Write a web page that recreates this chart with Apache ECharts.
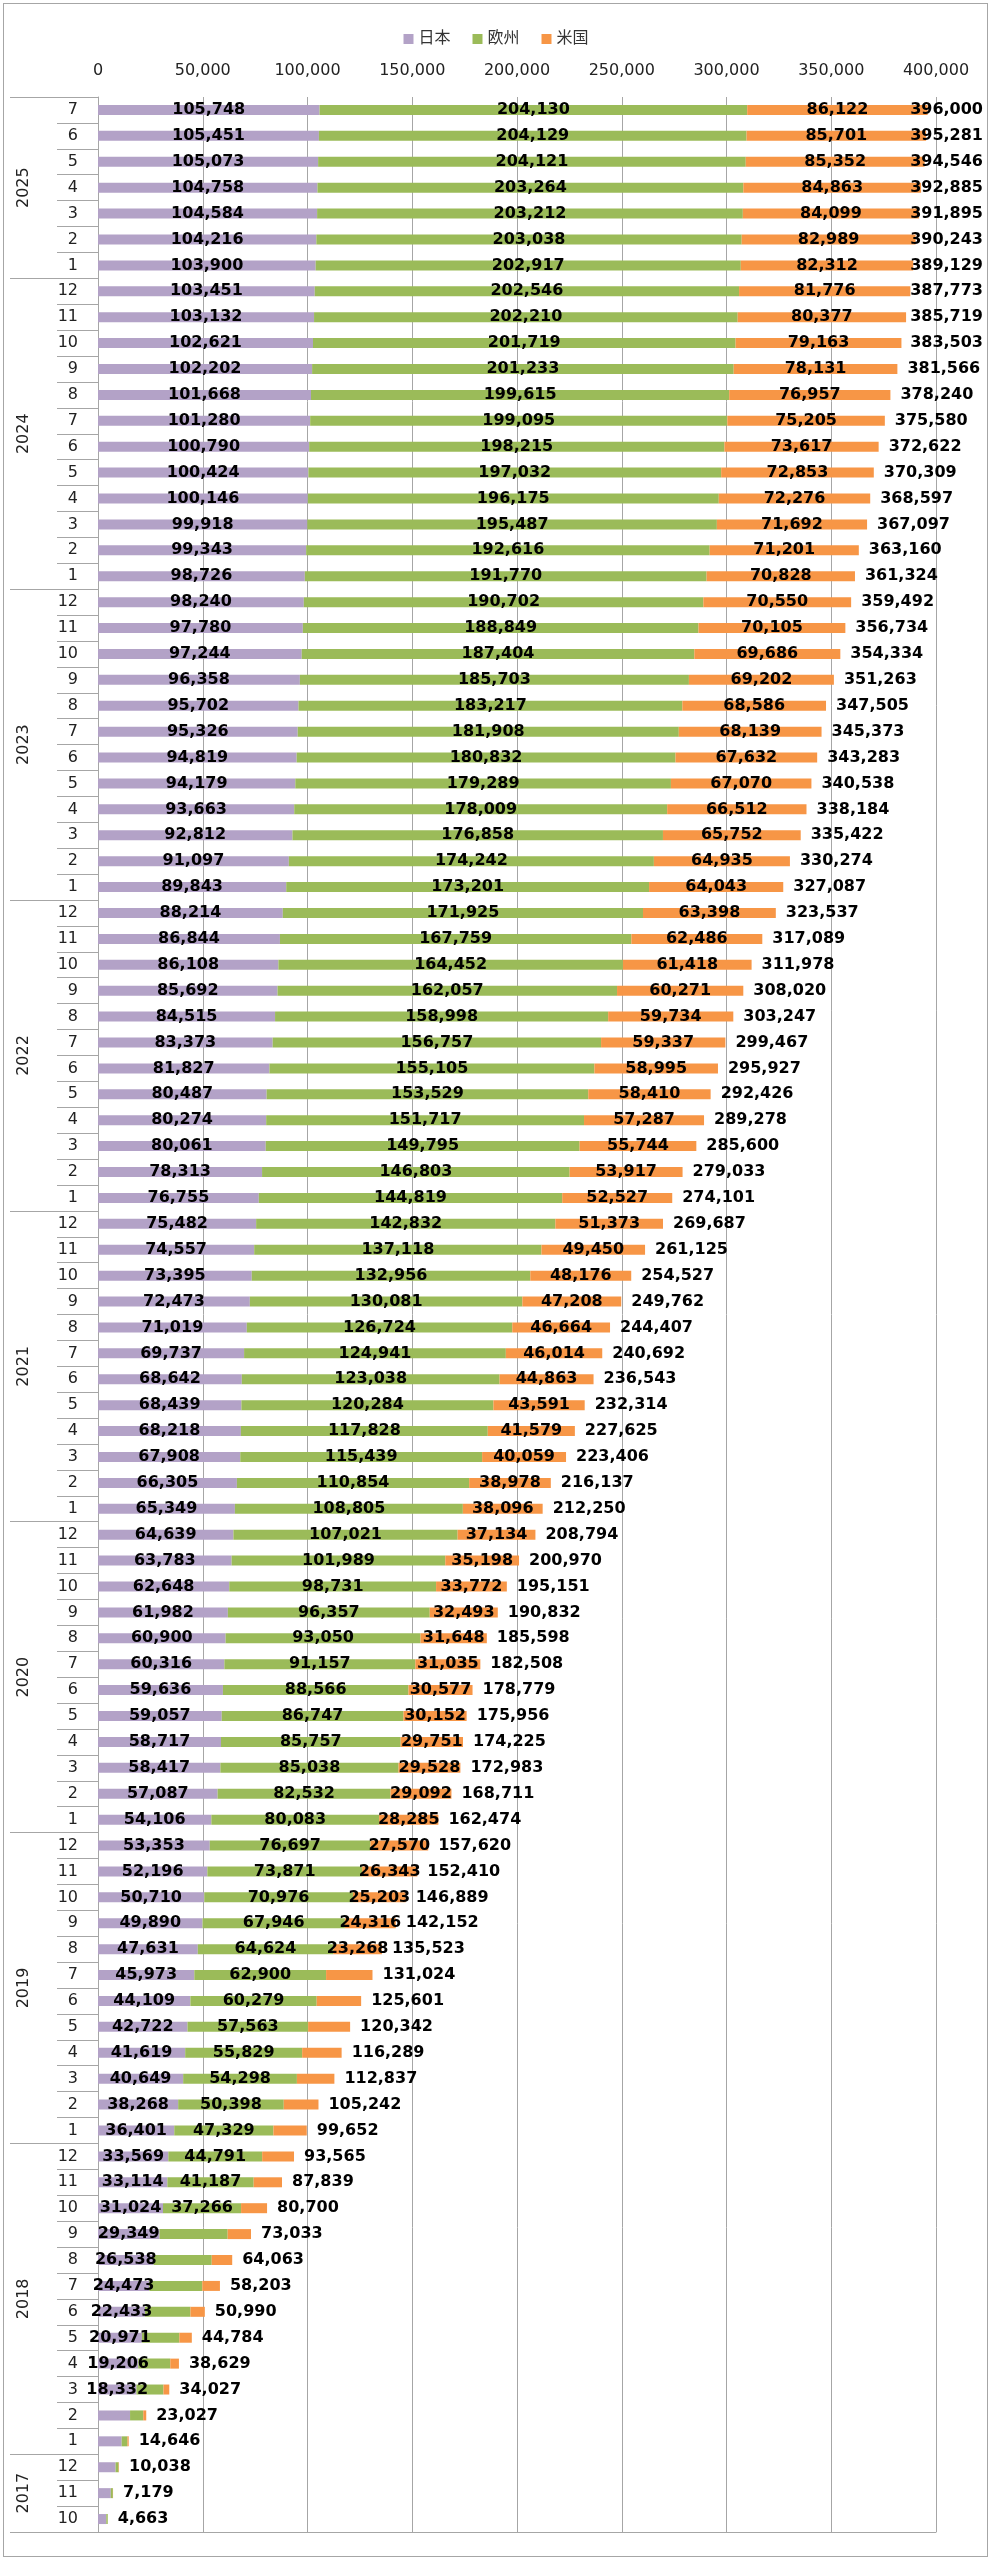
<!DOCTYPE html>
<html><head><meta charset="utf-8">
<script src="https://cdn.jsdelivr.net/npm/echarts@6/dist/echarts.min.js"></script>
<style>
html,body{margin:0;padding:0;background:#fff}
#c{width:992px;height:2560px}
#b{position:absolute;left:3px;top:3px;width:985px;height:2554px;box-sizing:border-box;border:1px solid #a6a6a6;pointer-events:none}
</style>
</head><body><div id="c"></div><div id="b"></div>
<script>
const categories = [
 '2017/10','2017/11','2017/12',
 '2018/1','2018/2','2018/3','2018/4','2018/5','2018/6','2018/7','2018/8','2018/9','2018/10','2018/11','2018/12',
 '2019/1','2019/2','2019/3','2019/4','2019/5','2019/6','2019/7','2019/8','2019/9','2019/10','2019/11','2019/12',
 '2020/1','2020/2','2020/3','2020/4','2020/5','2020/6','2020/7','2020/8','2020/9','2020/10','2020/11','2020/12',
 '2021/1','2021/2','2021/3','2021/4','2021/5','2021/6','2021/7','2021/8','2021/9','2021/10','2021/11','2021/12',
 '2022/1','2022/2','2022/3','2022/4','2022/5','2022/6','2022/7','2022/8','2022/9','2022/10','2022/11','2022/12',
 '2023/1','2023/2','2023/3','2023/4','2023/5','2023/6','2023/7','2023/8','2023/9','2023/10','2023/11','2023/12',
 '2024/1','2024/2','2024/3','2024/4','2024/5','2024/6','2024/7','2024/8','2024/9','2024/10','2024/11','2024/12',
 '2025/1','2025/2','2025/3','2025/4','2025/5','2025/6','2025/7'
];
const japan = [
 3950, 6100, 8400,
 11300, 15300, 18332, 19206, 20971, 22433, 24473, 26538, 29349, 31024, 33114, 33569,
 36401, 38268, 40649, 41619, 42722, 44109, 45973, 47631, 49890, 50710, 52196, 53353,
 54106, 57087, 58417, 58717, 59057, 59636, 60316, 60900, 61982, 62648, 63783, 64639,
 65349, 66305, 67908, 68218, 68439, 68642, 69737, 71019, 72473, 73395, 74557, 75482,
 76755, 78313, 80061, 80274, 80487, 81827, 83373, 84515, 85692, 86108, 86844, 88214,
 89843, 91097, 92812, 93663, 94179, 94819, 95326, 95702, 96358, 97244, 97780, 98240,
 98726, 99343, 99918, 100146, 100424, 100790, 101280, 101668, 102202, 102621, 103132, 103451,
 103900, 104216, 104584, 104758, 105073, 105451, 105748
];
const europe = [
 700, 1000, 1450,
 2750, 6300, 12900, 15300, 17850, 21700, 25300, 27750, 32550, 37266, 41187, 44791,
 47329, 50398, 54298, 55829, 57563, 60279, 62900, 64624, 67946, 70976, 73871, 76697,
 80083, 82532, 85038, 85757, 86747, 88566, 91157, 93050, 96357, 98731, 101989, 107021,
 108805, 110854, 115439, 117828, 120284, 123038, 124941, 126724, 130081, 132956, 137118, 142832,
 144819, 146803, 149795, 151717, 153529, 155105, 156757, 158998, 162057, 164452, 167759, 171925,
 173201, 174242, 176858, 178009, 179289, 180832, 181908, 183217, 185703, 187404, 188849, 190702,
 191770, 192616, 195487, 196175, 197032, 198215, 199095, 199615, 201233, 201719, 202210, 202546,
 202917, 203038, 203212, 203264, 204121, 204129, 204130
];
const usa = [
 13, 79, 188,
 596, 1427, 2795, 4123, 5963, 6857, 8430, 9775, 11134, 12410, 13538, 15205,
 15922, 16576, 17890, 18841, 20057, 21213, 22151, 23268, 24316, 25203, 26343, 27570,
 28285, 29092, 29528, 29751, 30152, 30577, 31035, 31648, 32493, 33772, 35198, 37134,
 38096, 38978, 40059, 41579, 43591, 44863, 46014, 46664, 47208, 48176, 49450, 51373,
 52527, 53917, 55744, 57287, 58410, 58995, 59337, 59734, 60271, 61418, 62486, 63398,
 64043, 64935, 65752, 66512, 67070, 67632, 68139, 68586, 69202, 69686, 70105, 70550,
 70828, 71201, 71692, 72276, 72853, 73617, 75205, 76957, 78131, 79163, 80377, 81776,
 82312, 82989, 84099, 84863, 85352, 85701, 86122
];
const totals = [
 4663, 7179, 10038,
 14646, 23027, 34027, 38629, 44784, 50990, 58203, 64063, 73033, 80700, 87839, 93565,
 99652, 105242, 112837, 116289, 120342, 125601, 131024, 135523, 142152, 146889, 152410, 157620,
 162474, 168711, 172983, 174225, 175956, 178779, 182508, 185598, 190832, 195151, 200970, 208794,
 212250, 216137, 223406, 227625, 232314, 236543, 240692, 244407, 249762, 254527, 261125, 269687,
 274101, 279033, 285600, 289278, 292426, 295927, 299467, 303247, 308020, 311978, 317089, 323537,
 327087, 330274, 335422, 338184, 340538, 343283, 345373, 347505, 351263, 354334, 356734, 359492,
 361324, 363160, 367097, 368597, 370309, 372622, 375580, 378240, 381566, 383503, 385719, 387773,
 389129, 390243, 391895, 392885, 394546, 395281, 396000
];
const yearLabels = ['2017','2018','2019','2020','2021','2022','2023','2024','2025'];
const seriesNames = ['日本','欧州','米国'];

const FONT = "'DejaVu Sans','Noto Sans CJK JP',sans-serif";
const GRAY = '#a6a6a6';
const fmt = v => Number(v).toLocaleString('en-US');

const yearCounts = yearLabels.map(y => categories.filter(c => c.split('/')[0] === y).length);
const yearBounds = [0];
yearCounts.forEach(n => yearBounds.push(yearBounds[yearBounds.length - 1] + n));
const yearMids = yearLabels.map((y, i) => (yearBounds[i] + yearBounds[i + 1]) / 2);

function segLabel(minShow) {
  return {
    show: true, position: 'inside', color: '#000', fontFamily: FONT,
    fontWeight: 'bold', fontSize: 16, textBorderWidth: 0,
    formatter: p => (p.value >= minShow ? fmt(p.value) : '')
  };
}

const chart = echarts.init(document.getElementById('c'), null, { renderer: 'canvas' });
chart.setOption({
  animation: false,
  backgroundColor: '#fff',
  textStyle: { fontFamily: FONT },
  legend: {
    data: seriesNames, top: 26, left: 'center', icon: 'rect',
    itemWidth: 10, itemHeight: 10, itemGap: 22,
    textStyle: { fontSize: 16, color: '#333', fontFamily: FONT }
  },
  grid: { left: 98, right: 56, top: 97, bottom: 28, containLabel: false, outerBoundsMode: 'none' },
  xAxis: {
    type: 'value', position: 'top', min: 0, max: 400000, interval: 50000,
    axisLine: { show: true, lineStyle: { color: GRAY, width: 1 } },
    axisTick: { show: true, length: 5, inside: false, lineStyle: { color: GRAY } },
    splitLine: { show: true, lineStyle: { color: GRAY, width: 1 } },
    axisLabel: { margin: 18, fontSize: 16, color: '#222', fontFamily: FONT, formatter: v => fmt(v) }
  },
  yAxis: [
    {
      type: 'category', data: categories, position: 'left',
      axisLine: { show: true, lineStyle: { color: GRAY, width: 1 } },
      axisTick: { show: true, length: 41, alignWithLabel: false, interval: 0, lineStyle: { color: GRAY } },
      axisLabel: { interval: 0, margin: 20, fontSize: 16, color: '#222', fontFamily: FONT,
        formatter: v => v.split('/')[1] },
      splitLine: { show: false }
    },
    {
      type: 'value', position: 'left', min: 0, max: categories.length,
      axisLine: { show: false },
      splitLine: { show: false },
      axisTick: { show: true, length: 88, customValues: yearBounds, lineStyle: { color: GRAY } },
      axisLabel: { show: true, customValues: yearMids, rotate: 90, margin: 66, fontSize: 16,
        color: '#222', fontFamily: FONT,
        formatter: v => {
          let best = 0;
          yearMids.forEach((m, i) => { if (Math.abs(m - v) < Math.abs(yearMids[best] - v)) best = i; });
          return yearLabels[best];
        } }
    }
  ],
  series: [
    { name: seriesNames[0], type: 'bar', stack: 'total', data: japan, barWidth: 10, barGap: '-100%',
      itemStyle: { color: '#b3a2c7' }, label: segLabel(16000) },
    { name: seriesNames[1], type: 'bar', stack: 'total', data: europe, barWidth: 10, barGap: '-100%',
      itemStyle: { color: '#9bbb59' }, label: segLabel(35000) },
    { name: seriesNames[2], type: 'bar', stack: 'total', data: usa, barWidth: 10, barGap: '-100%',
      itemStyle: { color: '#f79646' }, label: segLabel(23000) },
    { name: '合計', type: 'bar', data: totals, barWidth: 10, barGap: '-100%', z: 3, silent: true,
      itemStyle: { color: 'rgba(0,0,0,0)' },
      label: { show: true, position: 'right', distance: 10, color: '#000', fontFamily: FONT,
        fontWeight: 'bold', fontSize: 16, textBorderWidth: 0, formatter: p => fmt(p.value) },
      labelLayout: params => {
        const r = params.labelRect;
        const maxRight = 983;
        if (r.x + r.width > maxRight) {
          return { x: maxRight - r.width, y: r.y + r.height / 2, align: 'left', verticalAlign: 'middle' };
        }
        return {};
      }
    }
  ]
});
</script>
</body></html>
